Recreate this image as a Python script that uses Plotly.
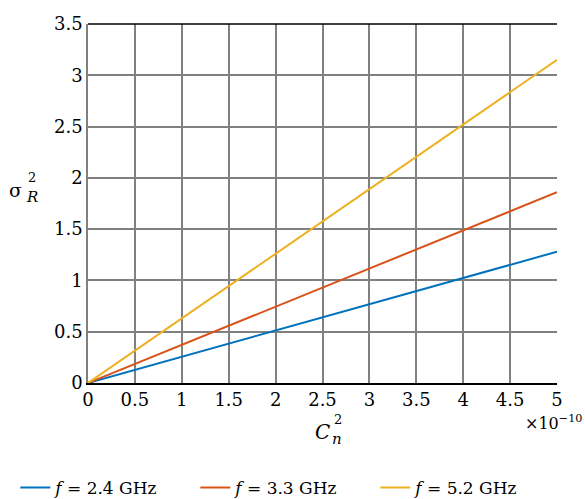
import plotly.graph_objects as go

# Data
cn2 = [0, 1e-10, 2e-10, 3e-10, 4e-10, 5e-10]
sig_24 = [0, 0.256, 0.512, 0.768, 1.024, 1.28]
sig_33 = [0, 0.372, 0.744, 1.116, 1.488, 1.86]
sig_52 = [0, 0.63, 1.26, 1.89, 2.52, 3.15]
names = ["<i>f</i> = 2.4 GHz", "<i>f</i> = 3.3 GHz", "<i>f</i> = 5.2 GHz"]
colors = ["#0072BD", "#D95319", "#EDB120"]
xtick_vals = [0, 0.5e-10, 1e-10, 1.5e-10, 2e-10, 2.5e-10, 3e-10, 3.5e-10, 4e-10, 4.5e-10, 5e-10]
xtick_text = ["0", "0.5", "1", "1.5", "2", "2.5", "3", "3.5", "4", "4.5", "5"]
ytick_vals = [0, 0.5, 1, 1.5, 2, 2.5, 3, 3.5]
ytick_text = ["0", "0.5", "1", "1.5", "2", "2.5", "3", "3.5"]

FONT = "DejaVu Serif"

fig = go.Figure()
for ys, nm, c in zip([sig_24, sig_33, sig_52], names, colors):
    fig.add_trace(go.Scatter(x=cn2, y=ys, mode="lines", name=nm,
                             line=dict(color=c, width=2)))

fig.update_layout(
    width=585, height=499,
    margin=dict(l=88, r=28, t=24, b=116, autoexpand=False),
    paper_bgcolor="white", plot_bgcolor="white",
    font=dict(family=FONT, size=18, color="black"),
    showlegend=True,
    legend=dict(orientation="h", x=-0.155, xanchor="left", y=-0.2925, yanchor="middle",
                entrywidth=135, font=dict(family=FONT, size=17),
                bgcolor="rgba(0,0,0,0)"),
)
fig.update_xaxes(range=[0, 5e-10], tickvals=xtick_vals, ticktext=xtick_text,
                 showgrid=True, gridcolor="#808080", gridwidth=1.5,
                 showline=True, linecolor="black", linewidth=1.5,
                 zeroline=False, ticks="", tickfont=dict(size=18))
fig.update_yaxes(range=[0, 3.5], tickvals=ytick_vals, ticktext=ytick_text,
                 showgrid=True, gridcolor="#808080", gridwidth=1.5,
                 showline=True, linecolor="#808080", linewidth=1.5,
                 zeroline=False, ticks="", tickfont=dict(size=18))
fig.add_shape(type="line", xref="paper", yref="paper", x0=0, x1=1, y0=1, y1=1,
              line=dict(color="black", width=1.5))

# x axis title C_n^2
fig.add_annotation(x=0, y=-0.136, xref="paper", yref="paper", text="<i>C</i>",
                   showarrow=False, font=dict(size=20), xanchor="center", yanchor="middle", xshift=234)
fig.add_annotation(x=0, y=-0.136, xref="paper", yref="paper", text="2",
                   showarrow=False, font=dict(size=13), xanchor="center", yanchor="middle", xshift=250, yshift=12)
fig.add_annotation(x=0, y=-0.136, xref="paper", yref="paper", text="<i>n</i>",
                   showarrow=False, font=dict(size=15), xanchor="center", yanchor="middle", xshift=249, yshift=-7)
# exponent
fig.add_annotation(x=1, y=-0.109, xref="paper", yref="paper", text="×10<sup>−10</sup>",
                   showarrow=False, font=dict(size=16), xanchor="right", yanchor="middle", xshift=27)

# y axis title sigma_R^2
fig.add_annotation(x=0, y=0.538, xref="paper", yref="paper", text="σ",
                   showarrow=False, font=dict(size=19), xanchor="right", yanchor="middle", xshift=-64)
fig.add_annotation(x=0, y=0.538, xref="paper", yref="paper", text="2",
                   showarrow=False, font=dict(size=13), xanchor="left", yanchor="middle", xshift=-62, yshift=12)
fig.add_annotation(x=0, y=0.538, xref="paper", yref="paper", text="<i>R</i>",
                   showarrow=False, font=dict(size=15), xanchor="left", yanchor="middle", xshift=-64, yshift=-7)

fig.write_html("out.html", config={"displayModeBar": False},
               post_script="document.body.style.margin='0';document.body.style.overflow='hidden';")
